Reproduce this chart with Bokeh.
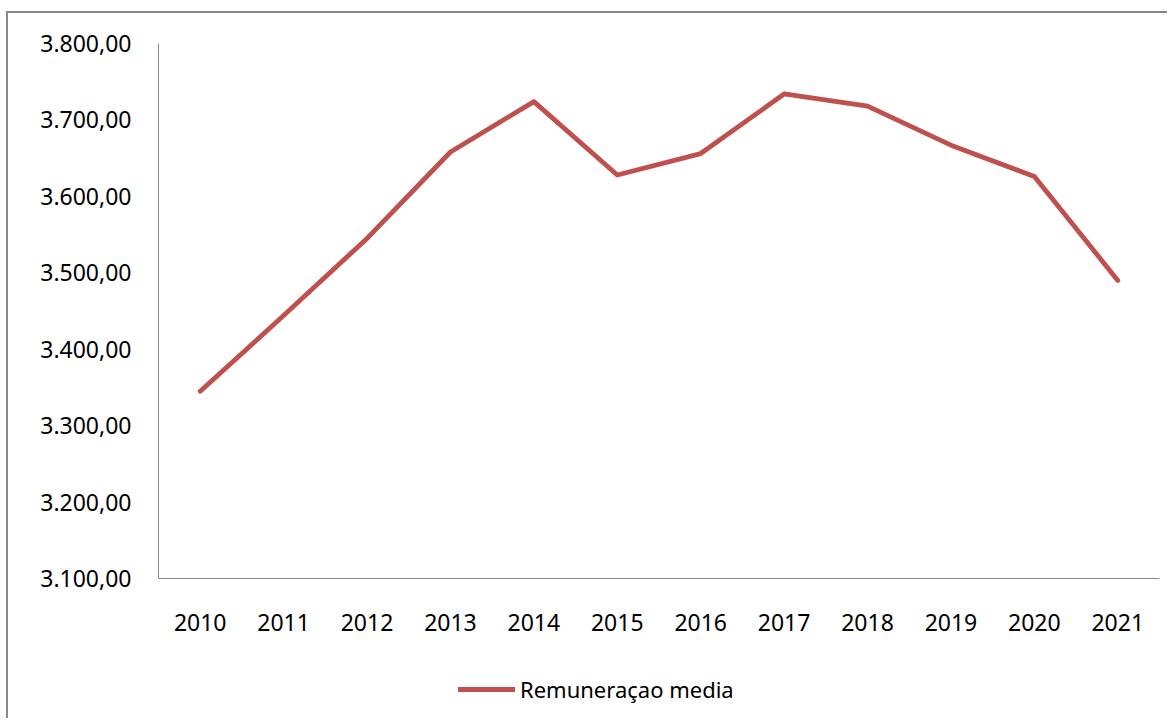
from bokeh.plotting import figure
from bokeh.models import Range1d, FixedTicker, Legend, LegendItem, FactorRange
from bokeh.embed import file_html
from bokeh.resources import INLINE

years = ["2010", "2011", "2012", "2013", "2014", "2015", "2016", "2017", "2018", "2019", "2020", "2021"]
remuneracao = [3345, 3444, 3545, 3658, 3724, 3628, 3656, 3734, 3718, 3667, 3626, 3490]
y_ticks = [3100, 3200, 3300, 3400, 3500, 3600, 3700, 3800]
y_tick_labels = ["3.100,00", "3.200,00", "3.300,00", "3.400,00", "3.500,00", "3.600,00", "3.700,00", "3.800,00"]
series_name = "Remuneraçao media"

y_lo, y_hi = y_ticks[0], y_ticks[-1]
axis_px = 535          # pixel height of the value axis
extra_px = 140         # room under the axis for labels and legend
frame_h = axis_px + extra_px
y_start = y_lo - extra_px * (y_hi - y_lo) / axis_px

p = figure(frame_width=1001, frame_height=frame_h, x_range=FactorRange(*years),
           y_range=Range1d(y_start, y_hi),
           output_backend="svg", toolbar_location=None,
           min_border_left=150, min_border_top=30, min_border_right=8, min_border_bottom=0)
p.margin = (11, 0, 0, 6)
p.styles = {"border-left": "2px solid #888888", "border-top": "2px solid #888888"}
p.outline_line_color = None
p.xgrid.grid_line_color = None
p.ygrid.grid_line_color = None

r = p.line(years, remuneracao, line_color="#C0504D", line_width=4.8, line_join="round", line_cap="round")

for ax in (p.xaxis, p.yaxis):
    ax.axis_line_color = "#868686"
    ax.major_tick_line_color = None
    ax.minor_tick_line_color = None
    ax.major_label_text_font = "Noto Sans"
    ax.major_label_text_font_size = "23px"
    ax.major_label_text_color = "#000000"

p.yaxis.ticker = FixedTicker(ticks=y_ticks)
p.yaxis.major_label_overrides = {t: l for t, l in zip(y_ticks, y_tick_labels)}
p.yaxis.bounds = (y_lo, y_hi)
p.yaxis.major_label_standoff = 21
p.xaxis.fixed_location = y_lo
p.xaxis.major_label_standoff = 29

legend = Legend(items=[LegendItem(label=series_name, renderers=[r])], location=(300, 14),
                orientation="horizontal", border_line_color=None, background_fill_alpha=0,
                label_text_font="Noto Sans", label_text_font_size="22px", label_text_color="#000000",
                glyph_width=57, glyph_height=22, label_standoff=5, padding=0, margin=0)
p.add_layout(legend, "center")

open("out.html", "w").write(file_html(p, INLINE))
